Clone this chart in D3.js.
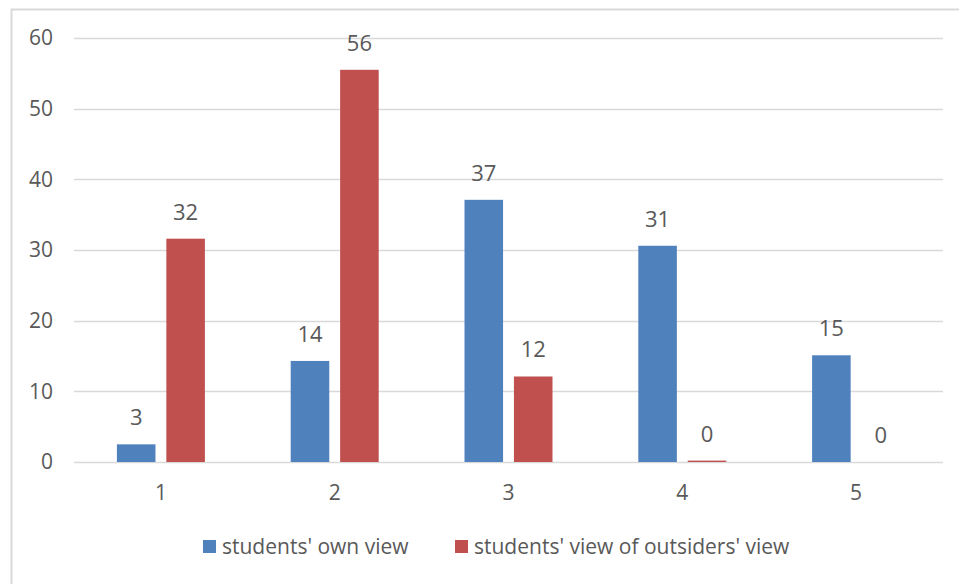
<!DOCTYPE html>
<html>
<head>
<meta charset="utf-8">
<script src="https://cdnjs.cloudflare.com/ajax/libs/d3/7.8.5/d3.min.js"></script>
<style>
  body { margin: 0; background: #fff; }
  svg text { font-family: "Open Sans", sans-serif; fill: #595959; }
</style>
</head>
<body>
<div class="chart"></div>
<script>
const categories = ['1', '2', '3', '4', '5'];
const seriesNames = ["students' own view", "students' view of outsiders' view"];
const ownView = [2.5, 14.3, 37.1, 30.6, 15.1];
const outsidersView = [31.6, 55.5, 12.1, 0.2, 0];
const yTicks = [0, 10, 20, 30, 40, 50, 60];
const colors = ['#4F81BD', '#C0504D'];

const svgWidth = 959, svgHeight = 584;
const margin = {top: 38, right: 16, bottom: 122, left: 74},
  width = svgWidth - margin.left - margin.right,
  height = svgHeight - margin.top - margin.bottom;

const svg = d3.select('.chart').append('svg')
    .attr('width', svgWidth)
    .attr('height', svgHeight);

// chart border (left + top visible)
svg.append('path')
    .attr('d', 'M11.5,' + svgHeight + 'V9.5H' + svgWidth)
    .attr('fill', 'none')
    .attr('stroke', '#d9d9d9')
    .attr('stroke-width', 2);

const g = svg.append('g')
    .attr('transform', 'translate(' + margin.left + ',' + margin.top + ')');

const x = d3.scaleBand().domain(categories).range([0, width]);
const x1 = d3.scaleBand().domain([0, 1]).range([x.bandwidth()/2 - 44, x.bandwidth()/2 + 44]).paddingInner(0.22);
const y = d3.scaleLinear().domain([0, 60]).range([height, 0]);

// gridlines
g.append('g')
    .selectAll('line')
    .data(yTicks)
  .enter().append('line')
    .attr('x1', 0).attr('x2', width)
    .attr('y1', d => Math.round(y(d)) + 0.5)
    .attr('y2', d => Math.round(y(d)) + 0.5)
    .attr('stroke', '#d9d9d9')
    .attr('stroke-width', 1.3);

// y axis labels
const yAxis = d3.axisLeft(y).tickValues(yTicks).tickSize(0).tickPadding(21);
g.append('g').call(yAxis)
    .attr('font-family', null).attr('font-size', null)
    .call(a => a.select('.domain').remove())
    .selectAll('text')
    .style('font-size', '21px')
    .attr('fill', '#595959');

// x axis labels
const xAxis = d3.axisBottom(x).tickSize(0).tickPadding(23);
g.append('g')
    .attr('transform', 'translate(0,' + height + ')')
    .attr('font-family', null).attr('font-size', null)
    .call(xAxis)
    .call(a => a.select('.domain').remove())
    .selectAll('text')
    .style('font-size', '21px')
    .attr('fill', '#595959');

const rows = categories.map((c, i) => ({cat: c, vals: [ownView[i], outsidersView[i]]}));

const groups = g.selectAll('.grp')
    .data(rows)
  .enter().append('g')
    .attr('class', 'grp')
    .attr('transform', d => 'translate(' + x(d.cat) + ',0)');

groups.selectAll('rect')
    .data(d => d.vals.map((v, k) => ({v: v, k: k})))
  .enter().append('rect')
    .attr('x', d => x1(d.k))
    .attr('width', x1.bandwidth())
    .attr('y', d => y(d.v))
    .attr('height', d => height - y(d.v))
    .attr('fill', d => colors[d.k]);

groups.selectAll('.lbl')
    .data(d => d.vals.map((v, k) => ({v: v, k: k})))
  .enter().append('text')
    .attr('class', 'lbl')
    .attr('x', d => x1(d.k) + x1.bandwidth()/2)
    .attr('y', d => y(d.v) - 19)
    .attr('text-anchor', 'middle')
    .style('font-size', '22px')
    .text(d => Math.round(d.v));

// legend
const legend = svg.append('g').attr('transform', 'translate(0,547)');
const legendX = [203, 455];
seriesNames.forEach((name, i) => {
  legend.append('rect')
      .attr('x', legendX[i]).attr('y', -7)
      .attr('width', 13).attr('height', 13)
      .attr('fill', colors[i]);
  legend.append('text')
      .attr('x', legendX[i] + 19)
      .attr('y', 7)
      .style('font-size', '21px')
      .text(name);
});
</script>
</body>
</html>
